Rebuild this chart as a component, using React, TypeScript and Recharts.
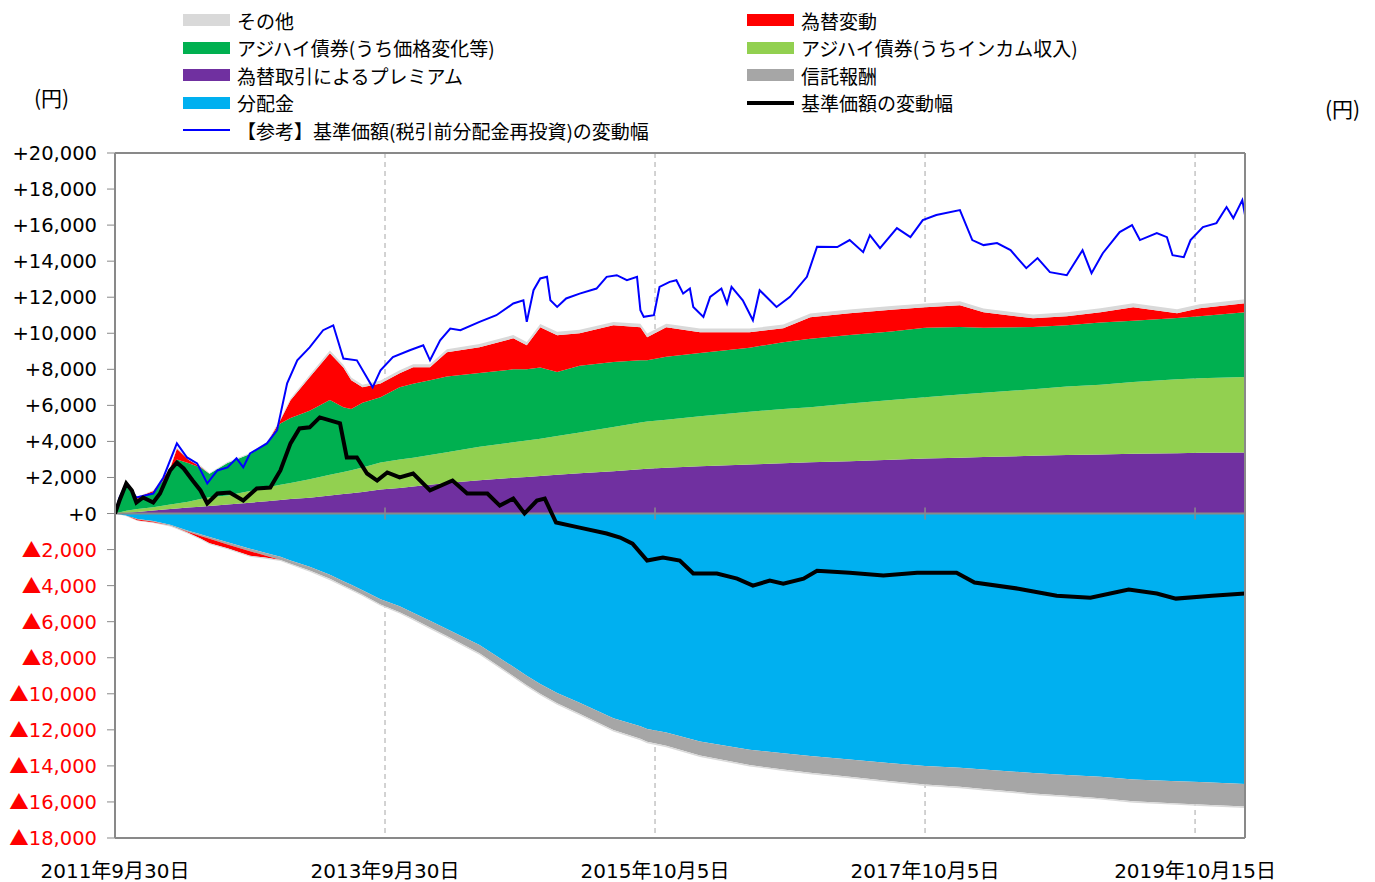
import React from "react";
import {
  ComposedChart,
  Area,
  Line,
  XAxis,
  YAxis,
  CartesianGrid,
  ReferenceLine,
} from "recharts";

// x = months since 2011-09-30
const dateTicks = [0, 24, 48, 72, 96];
const dateLabels = ["2011年9月30日", "2013年9月30日", "2015年10月5日", "2017年10月5日", "2019年10月15日"];
const yTicks = [-18000, -16000, -14000, -12000, -10000, -8000, -6000, -4000, -2000, 0, 2000, 4000, 6000, 8000, 10000, 12000, 14000, 16000, 18000, 20000];

const months = [0, 1, 2, 3.4, 4.9, 5.5, 6.5, 7.6, 8.4, 10, 12, 13.5, 14.7, 15.6, 17.3, 19.1, 20.3, 21, 22, 23.6, 25.3, 26.5, 28, 29.5, 32.4, 35.4, 36.6, 37.8, 39.3, 41.3, 44.3, 46.7, 47.3, 49, 52, 56.4, 59.4, 61.8, 65.3, 69, 72, 75.1, 77.2, 81.6, 84.6, 87.6, 90.5, 94.4, 96.4, 100.44];

// positive contributions
const premium = [0, 40, 90, 170, 250, 280, 330, 380, 420, 500, 600, 680, 750, 800, 880, 1000, 1080, 1120, 1200, 1330, 1420, 1500, 1600, 1700, 1850, 1980, 2030, 2080, 2150, 2230, 2350, 2450, 2480, 2540, 2620, 2720, 2790, 2840, 2900, 2980, 3050, 3100, 3130, 3200, 3240, 3280, 3310, 3350, 3370, 3390];
const income = [0, 110, 160, 180, 250, 270, 320, 420, 480, 500, 650, 770, 850, 900, 1020, 1150, 1220, 1280, 1350, 1500, 1580, 1600, 1650, 1700, 1850, 1970, 2020, 2070, 2150, 2270, 2450, 2600, 2620, 2660, 2780, 2930, 3010, 3060, 3200, 3320, 3400, 3500, 3570, 3700, 3810, 3870, 3990, 4100, 4130, 4190];
const priceChange = [0, 1350, 550, 820, 1800, 2450, 2150, 1750, 1300, 1800, 2050, 2450, 3400, 3600, 3800, 4150, 3600, 3400, 3600, 3620, 4000, 4100, 4150, 4200, 4100, 4050, 3950, 3950, 3550, 3700, 3600, 3450, 3400, 3500, 3500, 3550, 3700, 3800, 3800, 3800, 3850, 3750, 3600, 3450, 3400, 3450, 3400, 3400, 3450, 3590];
const fxGain = [0, 50, 100, 80, 200, 600, 200, 50, 0, 0, 0, 0, 170, 980, 1860, 2590, 2200, 1590, 850, 770, 780, 910, 710, 1340, 1420, 1720, 1330, 2230, 2040, 1800, 2040, 1830, 1280, 1630, 1160, 860, 780, 1190, 1210, 1200, 1140, 1210, 870, 480, 500, 570, 740, 260, 440, 500];
const otherGain = [0, 30, 30, 40, 50, 60, 60, 60, 50, 60, 60, 70, 80, 100, 120, 150, 150, 150, 150, 160, 170, 170, 170, 180, 180, 180, 180, 190, 190, 190, 190, 200, 200, 200, 200, 200, 200, 200, 210, 210, 210, 210, 210, 210, 210, 220, 220, 220, 220, 220];

// negative contributions
const distribution = [0, -120, -300, -420, -620, -750, -950, -1150, -1300, -1600, -1950, -2200, -2400, -2600, -2950, -3400, -3750, -3950, -4250, -4750, -5150, -5500, -5950, -6400, -7300, -8500, -9000, -9450, -9950, -10500, -11350, -11800, -11950, -12150, -12650, -13100, -13300, -13450, -13650, -13850, -14000, -14100, -14200, -14400, -14500, -14600, -14750, -14850, -14900, -15000];
const trustFee = [0, -10, -25, -40, -60, -65, -80, -90, -100, -120, -140, -160, -175, -185, -205, -225, -240, -250, -260, -290, -320, -340, -370, -400, -450, -510, -530, -550, -580, -610, -660, -700, -710, -730, -770, -850, -900, -930, -950, -1000, -1030, -1060, -1080, -1130, -1160, -1190, -1210, -1230, -1240, -1250];
const fxLoss = [0, 0, -60, -40, 0, 0, -40, -150, -250, -200, -250, -100, 0, 0, 0, 0, 0, 0, 0, 0, 0, 0, 0, 0, 0, 0, 0, 0, 0, 0, 0, 0, 0, 0, 0, 0, 0, 0, 0, 0, 0, 0, 0, 0, 0, 0, 0, 0, 0, 0];
const otherLoss = [0, -20, -30, -30, -40, -40, -50, -50, -50, -60, -60, -60, -60, -60, -70, -70, -70, -70, -70, -80, -80, -80, -80, -80, -80, -80, -80, -80, -80, -80, -80, -80, -80, -80, -80, -80, -80, -80, -80, -80, -80, -80, -80, -80, -80, -80, -80, -80, -80, -80];

// 基準価額の変動幅 [month, yen]
const navChange: [number, number][] = [
  [0, 0], [0.4, 720], [1.0, 1670], [1.5, 1280], [1.9, 610], [2.5, 890], [3.4, 610], [4.0, 1110], [4.9, 2390], [5.5, 2830],
  [6.1, 2500], [6.9, 1830], [7.6, 1280], [8.2, 560], [9.1, 1110], [10.2, 1170], [11.4, 720], [12.6, 1390], [13.8, 1440], [14.7, 2390],
  [15.6, 3890], [16.4, 4720], [17.3, 4780], [18.2, 5330], [19.1, 5170], [20.0, 5000], [20.6, 3110], [21.5, 3110], [22.4, 2220], [23.3, 1830],
  [24.2, 2280], [25.3, 2000], [26.5, 2220], [28, 1280], [30, 1830], [31.3, 1110], [33.1, 1110], [34.2, 440], [35.4, 830], [36.4, 0],
  [37.5, 720], [38.2, 830], [39.2, -500], [41.3, -780], [43.7, -1110], [44.9, -1330], [46, -1670], [47.3, -2610], [48.7, -2440], [50.2, -2610],
  [51.4, -3330], [53.5, -3330], [55.3, -3610], [56.7, -4000], [58.2, -3720], [59.4, -3890], [61.2, -3610], [62.4, -3170], [65.3, -3280], [68.3, -3440],
  [71.3, -3280], [74.8, -3280], [76.4, -3830], [80.3, -4170], [83.7, -4560], [86.7, -4670], [90.1, -4220], [92.6, -4440], [94.3, -4720], [97.5, -4560],
  [100.44, -4440],
];

// 【参考】基準価額(税引前分配金再投資)の変動幅 [month, yen]
const reinvestChange: [number, number][] = [
  [0, 0], [0.4, 890], [1.0, 1670], [1.9, 890], [3.4, 1110], [4.3, 2000], [5.5, 3890], [6.4, 3110], [7.3, 2780], [8.2, 1670],
  [9.1, 2390], [10, 2560], [10.8, 3060], [11.4, 2560], [12, 3330], [13.5, 3890], [14.4, 4610], [15.3, 7220], [16.2, 8500], [17.3, 9220],
  [18.5, 10170], [19.4, 10440], [20.3, 8600], [21.5, 8500], [22.9, 7000], [23.6, 7940], [24.7, 8680], [26.2, 9060], [27.4, 9330], [28, 8500],
  [28.9, 9610], [29.8, 10260], [30.7, 10170], [32.4, 10630], [33.9, 11000], [35.4, 11650], [36.3, 11830], [36.6, 10630], [37.2, 12390], [37.8, 13040],
  [38.4, 13130], [38.7, 11830], [39.3, 11460], [40.1, 11930], [41.3, 12200], [42.8, 12480], [43.7, 13130], [44.6, 13220], [45.5, 12940], [46.4, 13130],
  [46.7, 11280], [47, 10910], [47.9, 11000], [48.4, 12570], [49.3, 12850], [49.9, 12940], [50.5, 12200], [51.1, 12480], [51.4, 11460], [52.3, 10910],
  [52.9, 12020], [53.9, 12480], [54.4, 11650], [54.8, 12570], [55.8, 11830], [56.7, 10720], [57.3, 12390], [58.8, 11460], [60, 12020], [61.5, 13130],
  [62.4, 14800], [64.2, 14780], [65.3, 15170], [66.5, 14500], [67.1, 15440], [68, 14720], [69.5, 15830], [70.7, 15330], [71.8, 16280], [73, 16560],
  [75.1, 16830], [76.2, 15170], [77.2, 14890], [78.4, 15000], [79.6, 14610], [81, 13610], [82, 14170], [83.1, 13390], [84.6, 13220], [86, 14610],
  [86.8, 13330], [87.8, 14440], [89.3, 15610], [90.4, 16000], [91.1, 15170], [92.6, 15560], [93.5, 15330], [94, 14330], [95, 14220], [95.6, 15170],
  [96.7, 15890], [97.9, 16110], [98.8, 17000], [99.4, 16390], [100.2, 17390], [100.44, 16560],
];

const C = {
  other: "#D9D9D9",
  fx: "#FF0000",
  price: "#00B050",
  income: "#92D050",
  premium: "#7030A0",
  fee: "#A6A6A6",
  dist: "#00B0F0",
  blue: "#0000FF",
  black: "#000000",
  axis: "#898989",
};

const rows = months.map((x, k) => {
  const p = premium[k];
  const pi = p + income[k];
  const g = pi + priceChange[k];
  const f = g + fxGain[k];
  const o = f + otherGain[k];
  const d = distribution[k];
  const t = d + trustFee[k];
  const fn = t + fxLoss[k];
  const on = fn + otherLoss[k];
  return {
    x,
    premium: [0, p],
    income: [p, pi],
    price: [pi, g],
    fxUp: [g, f],
    otherUp: [f, o],
    dist: [d, 0],
    fee: [t, d],
    fxDown: [fn, t],
    otherDown: [on, fn],
  };
});

const navData = navChange.map(([x, v]) => ({ x, v }));
const reinvestData = reinvestChange.map(([x, v]) => ({ x, v }));

const numFont = "DejaVu Sans, Noto Sans CJK JP, sans-serif";
const jpFont = "Noto Sans CJK JP, sans-serif";

function YTick(props: any) {
  const { x, y, payload, side } = props;
  const v = payload.value as number;
  const neg = v < 0;
  const txt = (neg ? "" : "+") + Math.abs(v).toLocaleString("en-US");
  return (
    <text
      x={x}
      y={y}
      dy="0.36em"
      textAnchor={side === "left" ? "end" : "start"}
      fill={neg ? "#FF0000" : "#000"}
      fontSize={19.5}
      fontFamily={numFont}
    >
      {neg && <tspan fontFamily={jpFont}>▲</tspan>}
      {txt}
    </text>
  );
}

function XTick(props: any) {
  const { x, y, payload } = props;
  const idx = dateTicks.indexOf(payload.value);
  return (
    <text x={x} y={y + 38} textAnchor="middle" fill="#000" fontSize={20} fontFamily={numFont}>
      {dateLabels[idx]}
    </text>
  );
}

type LegendItem = { label: string; color: string; kind: "box" | "thin" | "thick" };

const legendLeft: LegendItem[] = [
  { label: "その他", color: C.other, kind: "box" },
  { label: "アジハイ債券(うち価格変化等)", color: C.price, kind: "box" },
  { label: "為替取引によるプレミアム", color: C.premium, kind: "box" },
  { label: "分配金", color: C.dist, kind: "box" },
  { label: "【参考】基準価額(税引前分配金再投資)の変動幅", color: C.blue, kind: "thin" },
];
const legendRight: LegendItem[] = [
  { label: "為替変動", color: C.fx, kind: "box" },
  { label: "アジハイ債券(うちインカム収入)", color: C.income, kind: "box" },
  { label: "信託報酬", color: C.fee, kind: "box" },
  { label: "基準価額の変動幅", color: C.black, kind: "thick" },
];

function LegendColumn({ items, left }: { items: LegendItem[]; left: number }) {
  return (
    <>
      {items.map((it, i) => (
        <div
          key={it.label}
          style={{
            position: "absolute",
            left,
            top: 8 + i * 27.5,
            height: 24,
            display: "flex",
            alignItems: "center",
            whiteSpace: "nowrap",
            fontFamily: jpFont,
            fontSize: 19,
            color: "#000",
          }}
        >
          <span
            style={{
              display: "inline-block",
              width: 47,
              height: it.kind === "box" ? 12 : it.kind === "thick" ? 4 : 2,
              background: it.color,
              marginRight: 7,
            }}
          />
          {it.label}
        </div>
      ))}
    </>
  );
}

export default function App() {
  return (
    <div style={{ position: "absolute", left: 0, top: 0, width: 1375, height: 882, background: "#fff" }}>
      <LegendColumn items={legendLeft} left={183} />
      <LegendColumn items={legendRight} left={747} />
      <div style={{ position: "absolute", left: 34, top: 82, fontFamily: jpFont, fontSize: 21 }}>(円)</div>
      <div style={{ position: "absolute", left: 1325, top: 93, fontFamily: jpFont, fontSize: 21 }}>(円)</div>
      <div style={{ position: "absolute", left: 0, top: 0 }}>
        <ComposedChart
          width={1375}
          height={882}
          data={rows}
          margin={{ top: 153, right: 0, bottom: 0, left: 0 }}
        >
          <CartesianGrid
            horizontal={false}
            vertical
            stroke="#A6A6A6"
            strokeDasharray="5 4"
            yAxisId="left"
          />
          <XAxis
            dataKey="x"
            type="number"
            domain={[0, 100.44]}
            ticks={dateTicks}
            allowDataOverflow
            height={44}
            tickLine={false}
            tickSize={0}
            axisLine={{ stroke: C.axis, strokeWidth: 2 }}
            tick={<XTick />}
          />
          <YAxis
            yAxisId="left"
            type="number"
            domain={[-18000, 20000]}
            ticks={yTicks}
            interval={0}
            width={115}
            tickSize={8}
            tickMargin={10}
            axisLine={{ stroke: C.axis, strokeWidth: 2 }}
            tickLine={{ stroke: C.axis }}
            tick={<YTick side="left" />}
          />
          <YAxis
            yAxisId="right"
            orientation="right"
            type="number"
            domain={[-18000, 20000]}
            ticks={yTicks}
            interval={0}
            width={130}
            tickSize={8}
            tickMargin={14}
            axisLine={{ stroke: C.axis, strokeWidth: 2 }}
            tickLine={{ stroke: C.axis }}
            tick={<YTick side="right" />}
          />

          <Area yAxisId="left" dataKey="premium" type="linear" fill={C.premium} stroke="none" fillOpacity={1} isAnimationActive={false} />
          <Area yAxisId="left" dataKey="income" type="linear" fill={C.income} stroke="none" fillOpacity={1} isAnimationActive={false} />
          <Area yAxisId="left" dataKey="price" type="linear" fill={C.price} stroke="none" fillOpacity={1} isAnimationActive={false} />
          <Area yAxisId="left" dataKey="fxUp" type="linear" fill={C.fx} stroke="none" fillOpacity={1} isAnimationActive={false} />
          <Area yAxisId="left" dataKey="otherUp" type="linear" fill={C.other} stroke="none" fillOpacity={1} isAnimationActive={false} />
          <Area yAxisId="left" dataKey="dist" type="linear" fill={C.dist} stroke="none" fillOpacity={1} isAnimationActive={false} />
          <Area yAxisId="left" dataKey="fee" type="linear" fill={C.fee} stroke="none" fillOpacity={1} isAnimationActive={false} />
          <Area yAxisId="left" dataKey="fxDown" type="linear" fill={C.fx} stroke="none" fillOpacity={1} isAnimationActive={false} />
          <Area yAxisId="left" dataKey="otherDown" type="linear" fill={C.other} stroke="none" fillOpacity={1} isAnimationActive={false} />

          <ReferenceLine yAxisId="left" y={0} stroke={C.axis} strokeWidth={2} />
          <ReferenceLine yAxisId="left" y={20000} stroke={C.axis} strokeWidth={2} />
          {dateTicks.slice(1).map((t) => (
            <ReferenceLine
              key={t}
              yAxisId="left"
              segment={[{ x: t, y: -330 }, { x: t, y: 330 }]}
              stroke={C.axis}
              strokeWidth={1.5}
            />
          ))}

          <Line
            yAxisId="left"
            data={reinvestData}
            dataKey="v"
            type="linear"
            stroke={C.blue}
            strokeWidth={2}
            dot={false}
            isAnimationActive={false}
          />
          <Line
            yAxisId="left"
            data={navData}
            dataKey="v"
            type="linear"
            stroke={C.black}
            strokeWidth={4}
            dot={false}
            isAnimationActive={false}
          />
        </ComposedChart>
      </div>
    </div>
  );
}
